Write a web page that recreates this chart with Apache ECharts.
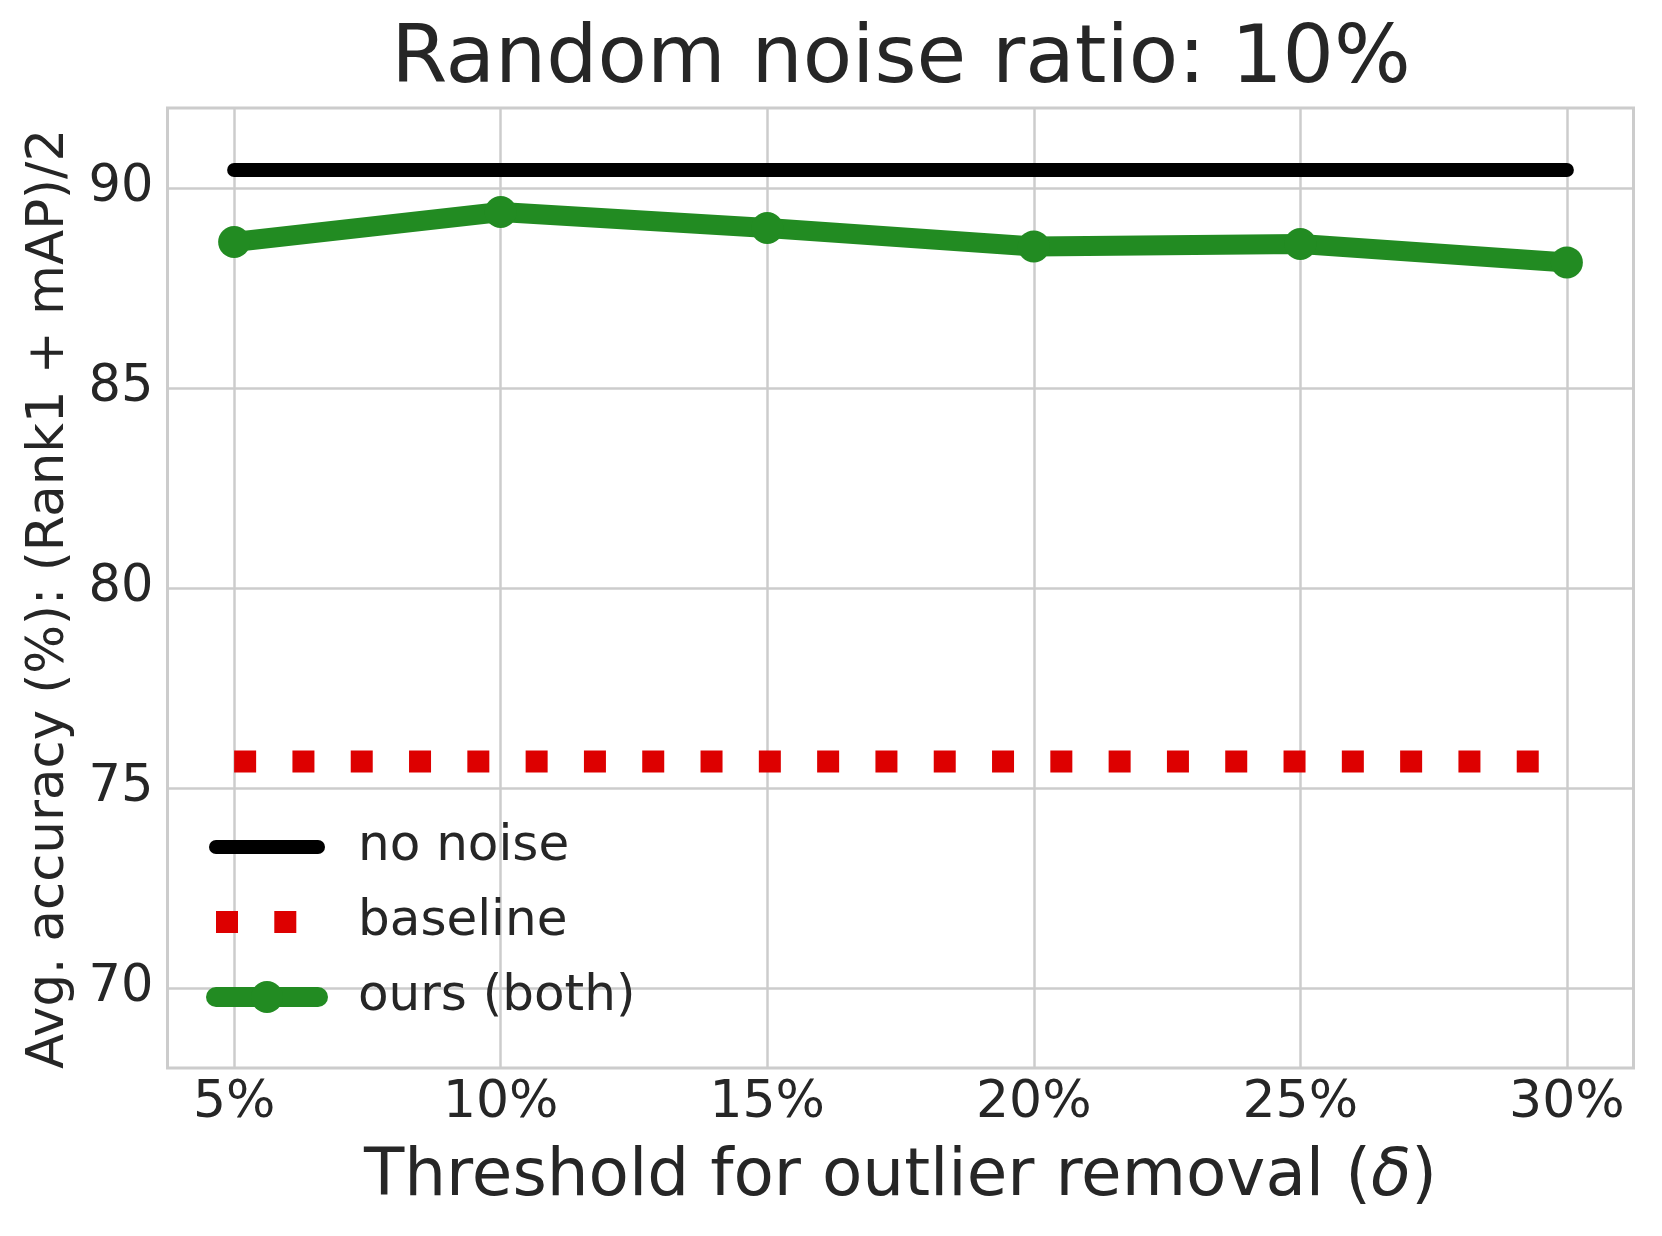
<!DOCTYPE html>
<html>
<head>
<meta charset="utf-8">
<script src="https://cdn.jsdelivr.net/npm/echarts@6/dist/echarts.min.js"></script>
<style>
html,body{margin:0;padding:0;background:#fff;}
#chart{width:1662px;height:1236px;}
</style>
</head>
<body>
<div id="chart"></div>
<script>
// Data
const thresholds = [5, 10, 15, 20, 25, 30];
const noNoise = [90.45, 90.45, 90.45, 90.45, 90.45, 90.45];
const baseline = [75.66, 75.66, 75.66, 75.66, 75.66, 75.66];
const ours = [88.65, 89.4, 89.0, 88.54, 88.6, 88.14];
const yTicks = [70, 75, 80, 85, 90];

const FONT = 'DejaVu Sans';
const TXT = '#262626';
const pairs = arr => thresholds.map((x, i) => [x, arr[i]]);

const chart = echarts.init(document.getElementById('chart'));
chart.setOption({
  animation: false,
  backgroundColor: '#ffffff',
  title: {
    text: 'Random noise ratio: 10%',
    left: 901, top: 21, padding: 0, textAlign: 'center',
    textStyle: {fontFamily: FONT, fontSize: 80.8, fontWeight: 'normal', color: TXT}
  },
  grid: {
    left: 167.5, right: 28.5, top: 108, bottom: 168,
    show: true, borderColor: '#cccccc', borderWidth: 3, backgroundColor: 'transparent'
  },
  legend: {
    orient: 'vertical', left: 205, top: 822, padding: 0,
    itemWidth: 102, itemHeight: 40, itemGap: 25,
    textStyle: {fontFamily: FONT, fontSize: 50, color: TXT, padding: [0, 0, 0, 35]},
    lineStyle: {width: 'inherit', type: 'inherit', cap: 'inherit', join: 'inherit'},
    data: [
      {name: 'no noise', itemStyle: {opacity: 0}},
      {name: 'baseline', itemStyle: {opacity: 0}},
      {name: 'ours (both)'}
    ]
  },
  xAxis: {
    type: 'value', min: 3.75, max: 31.25,
    axisLine: {show: false},
    axisTick: {show: false, customValues: thresholds},
    axisLabel: {
      fontFamily: FONT, fontSize: 52, color: TXT, margin: 9,
      customValues: thresholds,
      formatter: v => v + '%'
    },
    splitLine: {show: true, lineStyle: {color: '#cccccc', width: 2.5}},
    name: 'Threshold for outlier removal ({i|δ})',
    nameLocation: 'middle', nameGap: 77,
    nameTextStyle: {
      fontFamily: FONT, fontSize: 66, color: TXT,
      rich: {i: {fontFamily: FONT, fontSize: 66, fontStyle: 'italic', color: TXT}}
    }
  },
  yAxis: {
    type: 'value', min: 68, max: 92,
    axisLine: {show: false},
    axisTick: {show: false, customValues: yTicks},
    axisLabel: {
      fontFamily: FONT, fontSize: 51, color: TXT, margin: 14,
      customValues: yTicks,
      formatter: v => String(v)
    },
    splitLine: {show: true, lineStyle: {color: '#cccccc', width: 2.5}},
    name: 'Avg. accuracy (%): (Rank1 + mAP)/2',
    nameLocation: 'middle', nameGap: 92,
    nameTextStyle: {fontFamily: FONT, fontSize: 51.3, color: TXT, padding: [0, 22, 0, 0]}
  },
  series: [
    {
      name: 'no noise', type: 'line', data: pairs(noNoise),
      symbol: 'none', z: 3,
      lineStyle: {color: '#000000', width: 14, cap: 'round', join: 'round'},
      itemStyle: {color: '#000000'}
    },
    {
      name: 'baseline', type: 'line', data: pairs(baseline),
      symbol: 'none', z: 2,
      lineStyle: {color: '#dd0000', width: 22, type: [22, 36.3], cap: 'butt'},
      itemStyle: {color: '#dd0000'}
    },
    {
      name: 'ours (both)', type: 'line', data: pairs(ours),
      symbol: 'circle', symbolSize: 32, z: 4,
      lineStyle: {color: '#228b22', width: 20, cap: 'round', join: 'round'},
      itemStyle: {color: '#228b22'}
    }
  ]
});
</script>
</body>
</html>
